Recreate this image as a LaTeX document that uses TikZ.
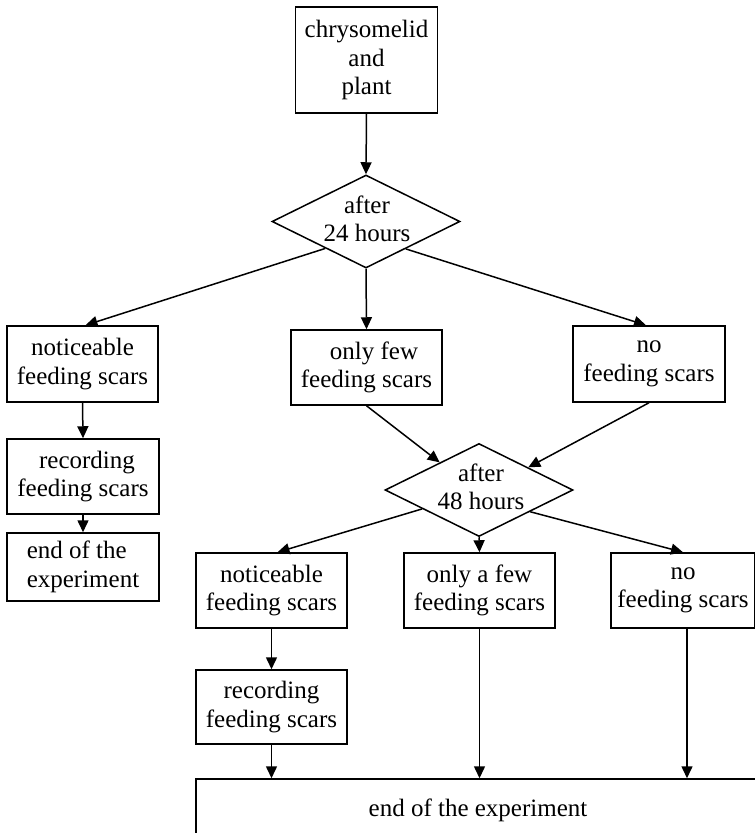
\documentclass[tikz,border=0pt]{standalone}
\usepackage{fontspec}
\setmainfont{Liberation Serif}
\usetikzlibrary{arrows.meta,calc,shapes.geometric}
\begin{document}
\begin{tikzpicture}[x=1pt,y=-1pt,
  every node/.style={font=\fontsize{25}{28.5}\selectfont},
  box/.style={draw,line width=1.5pt,rectangle,inner sep=0pt,align=center},
  dia/.style={draw,line width=1.5pt,diamond,inner sep=0pt,minimum width=188pt,minimum height=93pt},
  txt/.style={align=center,inner sep=0pt},
  arr/.style={line width=1.5pt,-{Triangle[length=12pt,width=11pt]}}]
\clip (0,0) rectangle (755,833);
\fill[white] (0,0) rectangle (755,833);
% top
\node[box,minimum width=142pt,minimum height=106pt] (TOP) at (366.5,60) {chrysomelid\\and\\plant};
\node[dia] (D1) at (366,221.5) {};
\node[txt] (D1t) at (367,219) {after\\24 hours};
% first row
\node[box,minimum width=151pt,minimum height=76pt] (B1) at (82.5,364) {noticeable\\feeding scars};
\node[box,minimum width=151pt,minimum height=75pt] (B2) at (366.5,367.5) {\hspace*{15pt}only few\\feeding scars};
\node[box,minimum width=152pt,minimum height=76pt] (B3) at (649,364) {no\\feeding scars};
% left column
\node[box,minimum width=152pt,minimum height=75pt] (C1) at (83,476.5) {\hspace*{8pt}recording\\feeding scars};
\node[box,minimum width=152pt,minimum height=68pt,align=left] (End1) at (83,567) {end of the\\experiment};
% second diamond
\node[dia] (D2) at (479,490) {};
\node[txt] (D2t) at (481,487) {after\\48 hours};
% second row
\node[box,minimum width=151pt,minimum height=75pt] (E1) at (271.5,590.5) {noticeable\\feeding scars};
\node[box,minimum width=151pt,minimum height=75pt] (E2) at (479.5,590.5) {only a few\\feeding scars};
\node[box,minimum width=144pt,minimum height=75pt] (E3) at (683,590.5) {no\\feeding scars};
\node[box,minimum width=151pt,minimum height=74pt] (F1) at (271.5,707) {recording\\feeding scars};
\node[box,minimum width=564pt,minimum height=62pt] (Final) at (478,810) {end of the experiment};
% connectors
\draw[arr] (TOP.south) -- (D1.north);
\draw[arr] ($(D1.west)!0.57!(D1.south)$) -- ([xshift=3pt]B1.north);
\draw[arr] (D1.south) -- (B2.north);
\draw[arr] ($(D1.south)!0.42!(D1.east)$) -- ([xshift=-3pt]B3.north);
\draw[arr] (B1.south) -- (C1.north);
\draw[arr] (C1.south) -- (End1.north);
\draw[arr] (B2.south) -- ($(D2.west)!0.585!(D2.north)$);
\draw[arr] (B3.south) -- ($(D2.north)!0.52!(D2.east)$);
\draw[arr] ($(D2.west)!0.4!(D2.south)$) -- ([xshift=6pt]E1.north);
\draw[arr] (D2.south) -- (E2.north);
\draw[arr] ($(D2.south)!0.54!(D2.east)$) -- (E3.north);
\draw[arr] (E1.south) -- (F1.north);
\draw[arr] (F1.south) -- (F1.south |- Final.north);
\draw[arr] (E2.south) -- (E2.south |- Final.north);
\draw[arr] ([xshift=4pt]E3.south) -- ([xshift=4pt]E3.south |- Final.north);
\end{tikzpicture}
\end{document}
